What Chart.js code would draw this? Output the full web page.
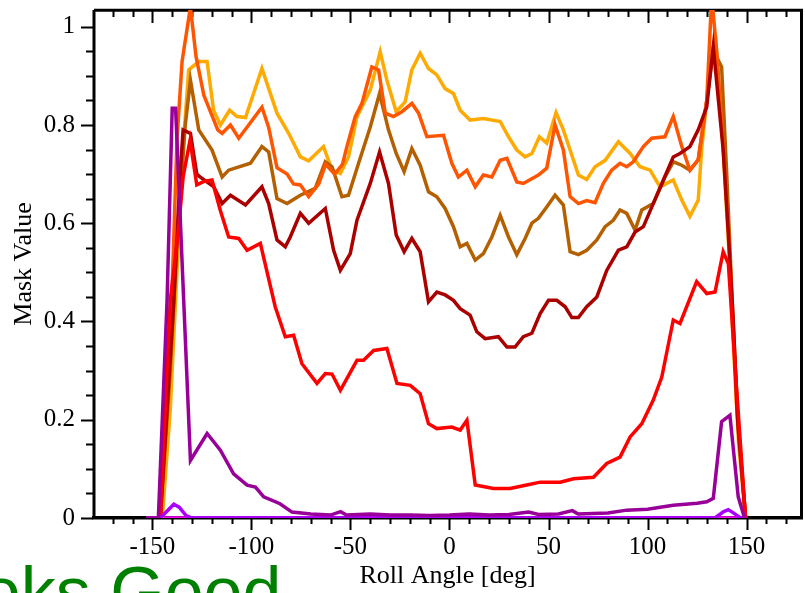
<!DOCTYPE html>
<html>
<head>
<meta charset="utf-8">
<script src="https://cdn.jsdelivr.net/npm/chart.js@4.4.1/dist/chart.umd.min.js"></script>
<style>
  html, body { margin: 0; padding: 0; background: #fff; overflow: hidden; }
  #wrap { position: relative; width: 805px; height: 593px; overflow: hidden; }
  #note { position: absolute; left: -96px; top: 557px; font-family: "Liberation Sans", Arial, sans-serif;
          font-size: 70px; line-height: 70px; color: #008000; white-space: nowrap; }
</style>
</head>
<body>
<div id="wrap">
  <canvas id="chart" width="805" height="593"></canvas>
  <div id="note">Looks Good</div>
</div>
<script>
// axis ticks
const xTicks = [-150, -100, -50, 0, 50, 100, 150];
const yTicks = [0, 0.2, 0.4, 0.6, 0.8, 1];

// series (roll angle in deg, mask value)
const yellowDeg = [-145, -141, -137.5, -134.2, -131.7, -126.6, -122.4, -119.1, -115.7, -111, -107.3, -103, -94.7, -87.1, -81.2, -75.3, -71.1, -63.6, -59.3, -55.1, -51, -46.7, -40, -35, -31.6, -26.9, -22.4, -19, -14.8, -10.6, -6.4, -2.2, 2, 5.4, 10.4, 17.1, 25.6, 29.8, 34, 38.2, 41.6, 45.4, 49.1, 53.8, 57.5, 60.9, 65.1, 69.3, 73.5, 78.6, 85.3, 91.2, 96.2, 101.3, 106.3, 113, 117.3, 121.4, 125.6, 127.3, 129.9, 132.4, 134.5, 137.5, 141, 143, 146, 149.5];
const yellowVal = [0, 0.22, 0.51, 0.77, 0.912, 0.929, 0.929, 0.83, 0.8, 0.83, 0.817, 0.815, 0.915, 0.824, 0.783, 0.735, 0.727, 0.756, 0.708, 0.701, 0.735, 0.817, 0.871, 0.949, 0.891, 0.827, 0.847, 0.912, 0.946, 0.915, 0.902, 0.874, 0.864, 0.83, 0.81, 0.813, 0.807, 0.776, 0.749, 0.735, 0.742, 0.776, 0.763, 0.825, 0.79, 0.749, 0.698, 0.689, 0.715, 0.728, 0.766, 0.742, 0.715, 0.708, 0.674, 0.688, 0.647, 0.614, 0.647, 0.749, 0.85, 0.953, 0.97, 0.8, 0.55, 0.38, 0.15, 0];

const orangeDeg = [-146, -141, -137.6, -135, -130.8, -128, -124, -120, -117, -114.8, -110.6, -106.4, -94.7, -91.3, -87.1, -82, -78.8, -75.3, -71.1, -66, -62.5, -58, -54, -51.8, -47.6, -44.2, -39.2, -35.8, -32.4, -28.3, -24, -19, -15.6, -11.4, -3, 1.2, 4.5, 8.8, 13, 17.1, 21.4, 25.6, 29, 34, 37.3, 44.9, 49.1, 53.3, 57.5, 60.9, 65.1, 69.3, 73.5, 77.7, 81.9, 86.1, 89.5, 92.8, 97.9, 102.1, 108.8, 113, 117.3, 121.4, 125.6, 129.9, 132.4, 134.9, 138, 141, 145, 149.5];
const orangeVal = [0, 0.35, 0.769, 0.93, 1.04, 0.94, 0.86, 0.82, 0.79, 0.783, 0.8, 0.773, 0.836, 0.795, 0.713, 0.7, 0.68, 0.678, 0.654, 0.68, 0.72, 0.7, 0.72, 0.756, 0.817, 0.844, 0.918, 0.912, 0.824, 0.817, 0.827, 0.844, 0.824, 0.776, 0.779, 0.722, 0.694, 0.708, 0.674, 0.698, 0.694, 0.728, 0.732, 0.684, 0.681, 0.698, 0.712, 0.8, 0.749, 0.654, 0.64, 0.646, 0.642, 0.681, 0.708, 0.722, 0.715, 0.725, 0.756, 0.773, 0.776, 0.817, 0.756, 0.708, 0.729, 0.85, 1.06, 0.952, 0.77, 0.58, 0.23, 0];

const brownDeg = [-146, -141, -137, -133.4, -130.8, -126.6, -119.9, -114.8, -111.5, -100.5, -94.7, -91.3, -87.1, -82, -75.3, -67.8, -62.7, -59.3, -54.3, -51, -45.9, -40, -35.3, -30.8, -26.9, -22.9, -19, -14.8, -10.6, -6.4, -2.2, 2, 5.4, 8.8, 13, 17.1, 21.4, 25.6, 29.8, 34, 38.2, 41.6, 44.9, 49.1, 53.3, 57.5, 60.9, 65.1, 69.3, 74.4, 78.6, 82.7, 86.1, 89.5, 93.7, 97.1, 102.9, 108.8, 113, 117.3, 121.4, 125.6, 129.9, 133.2, 137.4, 140, 143, 146, 149.5];
const brownVal = [0, 0.3, 0.6, 0.8, 0.891, 0.79, 0.749, 0.694, 0.708, 0.722, 0.756, 0.745, 0.65, 0.64, 0.657, 0.671, 0.725, 0.715, 0.654, 0.657, 0.722, 0.796, 0.864, 0.79, 0.742, 0.705, 0.752, 0.718, 0.664, 0.654, 0.63, 0.593, 0.552, 0.559, 0.525, 0.538, 0.572, 0.616, 0.572, 0.536, 0.569, 0.6, 0.61, 0.633, 0.657, 0.637, 0.542, 0.536, 0.545, 0.566, 0.593, 0.606, 0.627, 0.62, 0.586, 0.627, 0.64, 0.694, 0.725, 0.718, 0.708, 0.729, 0.85, 0.952, 0.918, 0.7, 0.42, 0.17, 0];

const darkRedDeg = [-146, -139.2, -136, -134.5, -130.8, -127.6, -125.8, -119, -114.8, -110.6, -103, -94.7, -91.3, -87.1, -82.9, -80.4, -75.3, -71.1, -62.7, -58.5, -55.1, -50.1, -46.7, -40, -35.3, -30.8, -26.9, -22.9, -19, -14.8, -10.6, -6.4, -2.2, 2, 5.4, 10.4, 13.8, 18, 24.7, 29, 33.1, 37.3, 41.6, 45.8, 50, 54.2, 58.4, 61.8, 65.1, 69.3, 74.4, 79.4, 85.3, 89.5, 93.7, 97.9, 102.9, 108, 113, 116.4, 121.4, 125.6, 129.9, 133.2, 138.2, 140.8, 143.3, 145.5, 149.5];
const darkRedVal = [0, 0.443, 0.7, 0.79, 0.783, 0.7, 0.694, 0.674, 0.64, 0.657, 0.637, 0.674, 0.64, 0.566, 0.552, 0.572, 0.62, 0.6, 0.63, 0.545, 0.504, 0.538, 0.606, 0.681, 0.745, 0.681, 0.576, 0.542, 0.569, 0.542, 0.44, 0.46, 0.454, 0.443, 0.426, 0.413, 0.379, 0.365, 0.369, 0.348, 0.348, 0.369, 0.376, 0.416, 0.443, 0.443, 0.43, 0.408, 0.408, 0.43, 0.45, 0.504, 0.545, 0.552, 0.582, 0.593, 0.64, 0.688, 0.735, 0.742, 0.756, 0.79, 0.837, 0.959, 0.75, 0.58, 0.4, 0.2, 0];

const redDeg = [-146, -141, -137, -134.5, -131, -127.6, -124, -119.9, -115.7, -111.5, -106.4, -102.2, -95.5, -88, -82.9, -78.7, -74.5, -66.9, -62.7, -59.3, -55.1, -46.7, -43.4, -38.3, -31.6, -26.5, -19.8, -14.8, -10.6, -6.4, 1.2, 5.4, 8.8, 13, 22.2, 30.6, 39, 45.8, 55.9, 62.6, 72.7, 79.4, 86.1, 91.2, 97.1, 102.9, 107.2, 113, 116.4, 124.8, 129.9, 134.1, 138.2, 140.8, 145, 149.5];
const redVal = [0, 0.443, 0.58, 0.694, 0.769, 0.678, 0.685, 0.688, 0.626, 0.572, 0.569, 0.545, 0.559, 0.43, 0.369, 0.372, 0.314, 0.274, 0.294, 0.293, 0.26, 0.321, 0.321, 0.341, 0.345, 0.274, 0.27, 0.253, 0.192, 0.182, 0.185, 0.179, 0.199, 0.067, 0.06, 0.06, 0.067, 0.073, 0.073, 0.08, 0.083, 0.111, 0.124, 0.165, 0.192, 0.24, 0.287, 0.403, 0.396, 0.481, 0.457, 0.46, 0.542, 0.518, 0.262, 0];

const purpleDeg = [-153, -147, -142.6, -140, -138.3, -134.2, -130.8, -122.4, -115.7, -109, -102.2, -98, -93.8, -85.6, -79.5, -70, -60, -55, -52, -40, -30, -20, -10, 0, 10, 20, 30, 40, 45, 55, 62, 65, 80, 89.5, 100, 113, 125, 129.9, 133.2, 137.4, 141.6, 145.8, 149];
const purpleVal = [0, 0, 0.443, 0.834, 0.834, 0.443, 0.117, 0.172, 0.138, 0.09, 0.067, 0.063, 0.043, 0.029, 0.012, 0.008, 0.006, 0.013, 0.006, 0.008, 0.006, 0.006, 0.005, 0.006, 0.008, 0.006, 0.007, 0.012, 0.007, 0.008, 0.015, 0.008, 0.01, 0.016, 0.018, 0.026, 0.03, 0.033, 0.04, 0.196, 0.209, 0.043, 0];

const violetDeg = [-153, -146, -139.2, -136.5, -133, -130, 134, 138.5, 140.8, 143.5, 147, 150];
const violetVal = [0, 0, 0.028, 0.022, 0.005, 0, 0, 0.013, 0.017, 0.01, 0, 0];

const magentaDeg = [-153, 150];
const magentaVal = [0, 0];

function pairs(deg, val) {
  return deg.map((d, i) => ({ x: d, y: val[i] }));
}

// frame with mirrored ticks, drawn under the lines
const frame = {
  id: "frame",
  beforeDatasetsDraw(chart) {
    const { ctx, chartArea: a, scales } = chart;
    const x = scales.x, y = scales.y;
    ctx.save();
    ctx.strokeStyle = "#000";
    ctx.lineWidth = 2;
    ctx.beginPath();
    for (let d = -170; d <= 170; d += 10) {
      const px = Math.round(x.getPixelForValue(d)) + 0.5;
      const len = d % 50 === 0 ? 12 : 6;
      ctx.moveTo(px, a.bottom);
      ctx.lineTo(px, a.bottom + len);
      ctx.moveTo(px, a.top);
      ctx.lineTo(px, a.top + len + 1);
    }
    for (let k = 0; k <= 20; k++) {
      const py = Math.round(y.getPixelForValue(k * 0.05)) + 0.5;
      const len = k % 4 === 0 ? 12 : 7;
      ctx.moveTo(a.left, py);
      ctx.lineTo(a.left - len, py);
    }
    ctx.stroke();
    ctx.lineWidth = 3;
    ctx.beginPath();
    ctx.moveTo(a.left + 1, a.top + 0.3);
    ctx.lineTo(a.right - 0.5, a.top + 0.3);
    ctx.lineTo(a.right - 0.5, a.bottom);
    ctx.moveTo(a.left + 1, a.top);
    ctx.lineTo(a.left + 1, a.bottom);
    ctx.stroke();
    ctx.lineWidth = 3.5;
    ctx.beginPath();
    ctx.moveTo(a.left - 1, a.bottom - 0.3);
    ctx.lineTo(a.right + 1, a.bottom - 0.3);
    ctx.stroke();
    ctx.restore();
  }
};

const serif = "'Liberation Serif', 'Times New Roman', serif";

new Chart(document.getElementById("chart").getContext("2d"), {
  type: "line",
  data: {
    datasets: [
      { data: pairs(magentaDeg, magentaVal), borderColor: "#FF00FF", order: 9 },
      { data: pairs(yellowDeg, yellowVal), borderColor: "#FFAA00", order: 8 },
      { data: pairs(brownDeg, brownVal), borderColor: "#B56000", order: 7 },
      { data: pairs(orangeDeg, orangeVal), borderColor: "#FF5500", order: 6 },
      { data: pairs(darkRedDeg, darkRedVal), borderColor: "#AA0000", order: 5 },
      { data: pairs(redDeg, redVal), borderColor: "#FF0000", order: 4 },
      { data: pairs(violetDeg, violetVal), borderColor: "#AA00FF", order: 3 },
      { data: pairs(purpleDeg, purpleVal), borderColor: "#990099", order: 2 }
    ]
  },
  options: {
    responsive: false,
    animation: false,
    layout: { padding: { top: 10, right: 3, left: 0, bottom: 0 } },
    plugins: { legend: { display: false }, tooltip: { enabled: false } },
    elements: {
      point: { radius: 0 },
      line: { tension: 0, borderWidth: 3.5, fill: false }
    },
    scales: {
      x: {
        type: "linear",
        min: -180,
        max: 178,
        grid: { display: false, drawTicks: false },
        border: { display: false },
        afterBuildTicks: (s) => { s.ticks = xTicks.map((v) => ({ value: v })); },
        afterFit: (s) => { s.height = 75; s.paddingLeft = 0; s.paddingRight = 0; },
        ticks: {
          padding: 14, maxRotation: 0, autoSkip: false, color: "#000",
          font: { family: serif, size: 25 },
          callback: (v) => String(v)
        },
        title: {
          display: true, text: "Roll Angle [deg]", color: "#000",
          font: { family: serif, size: 26 },
          padding: { top: 0, bottom: 1 }
        }
      },
      y: {
        min: 0,
        max: 1.034,
        grid: { display: false, drawTicks: false },
        border: { display: false },
        afterBuildTicks: (s) => { s.ticks = yTicks.map((v) => ({ value: v })); },
        afterFit: (s) => { s.width = 93; s.paddingTop = 0; s.paddingBottom = 0; },
        ticks: {
          padding: 18, color: "#000",
          font: { family: serif, size: 25 },
          callback: (v) => String(v)
        },
        title: {
          display: true, text: "Mask Value", color: "#000",
          font: { family: serif, size: 26 },
          padding: { top: 9, bottom: 0 }
        }
      }
    }
  },
  plugins: [frame]
});
</script>
</body>
</html>
